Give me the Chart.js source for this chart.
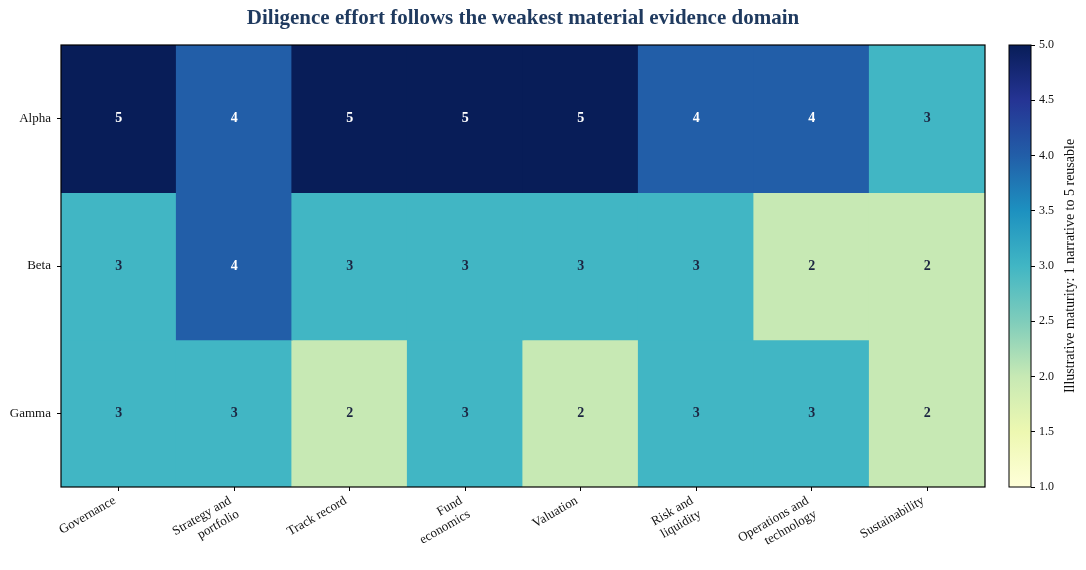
<!DOCTYPE html>
<html>
<head>
<meta charset="utf-8">
<script src="https://cdn.jsdelivr.net/npm/chart.js@4.4.1/dist/chart.umd.min.js"></script>
<style>
  html, body { margin: 0; padding: 0; background: #fff; }
  #wrap { position: relative; width: 1086px; height: 570px; }
  #heat { position: absolute; left: 0; top: 0; }
  #cbar { position: absolute; left: 1000px; top: 0; }
</style>
</head>
<body>
<div id="wrap">
  <canvas id="heat" width="1000" height="570"></canvas>
  <canvas id="cbar" width="86" height="570"></canvas>
</div>
<script>
// Maturity heatmap: managers x evidence domains

const domains = [
    ['Governance'], ['Strategy and', 'portfolio'], ['Track record'], ['Fund', 'economics'],
    ['Valuation'], ['Risk and', 'liquidity'], ['Operations and', 'technology'], ['Sustainability']
];
const managers = ['Alpha', 'Beta', 'Gamma'];
const alphaScores = [5, 4, 5, 5, 5, 4, 4, 3];
const betaScores = [3, 4, 3, 3, 3, 3, 2, 2];
const gammaScores = [3, 3, 2, 3, 2, 3, 3, 2];
const scoreRows = [alphaScores, betaScores, gammaScores];
const colorbarTicks = [1.0, 1.5, 2.0, 2.5, 3.0, 3.5, 4.0, 4.5, 5.0];

const titleText = 'Diligence effort follows the weakest material evidence domain';
const colorbarLabel = 'Illustrative maturity: 1 narrative to 5 reusable';

// YlGnBu stops, evenly spaced from vmin to vmax
const cmapStops = ['#ffffd9', '#edf8b1', '#c7e9b4', '#7fcdbb', '#41b6c4', '#1d91c0', '#225ea8', '#253494', '#081d58'];
const vmin = 1, vmax = 5;

function hexToRgb(h) {
    return [parseInt(h.slice(1, 3), 16), parseInt(h.slice(3, 5), 16), parseInt(h.slice(5, 7), 16)];
}

function cmap(v) {
    const t = Math.max(0, Math.min(1, (v - vmin) / (vmax - vmin))) * (cmapStops.length - 1);
    const i = Math.min(Math.floor(t), cmapStops.length - 2);
    const f = t - i;
    const a = hexToRgb(cmapStops[i]), b = hexToRgb(cmapStops[i + 1]);
    const c = a.map((x, k) => Math.round(x + (b[k] - x) * f));
    return `rgb(${c[0]}, ${c[1]}, ${c[2]})`;
}

const SERIF = '"Liberation Serif", "DejaVu Serif", serif';

// one floating-bar dataset per manager row
const datasets = scoreRows.map((row, r) => ({
    label: managers[r],
    data: row.map(() => [r - 0.5, r + 0.5]),
    scores: row,
    backgroundColor: row.map(cmap),
    borderWidth: 0,
    inflateAmount: 0.6,
    barPercentage: 1,
    categoryPercentage: 1,
    grouped: false
}));

const heatPlugin = {
    id: 'heatDecor',
    afterDatasetsDraw(chart) {
        const ctx = chart.ctx;
        const area = chart.chartArea;
        ctx.save();
        ctx.font = 'bold 14px ' + SERIF;
        ctx.textAlign = 'center';
        ctx.textBaseline = 'middle';
        chart.data.datasets.forEach((ds, di) => {
            const meta = chart.getDatasetMeta(di);
            meta.data.forEach((bar, i) => {
                const v = ds.scores[i];
                ctx.fillStyle = v >= 4 ? '#ffffff' : '#1c2541';
                ctx.fillText(String(v), bar.x, (bar.y + bar.base) / 2);
            });
        });
        ctx.strokeStyle = '#000';
        ctx.lineWidth = 1.2;
        ctx.strokeRect(area.left, area.top, area.right - area.left, area.bottom - area.top);
        // title over the heatmap axes
        ctx.font = 'bold 21px ' + SERIF;
        ctx.fillStyle = '#1f3a5f';
        ctx.fillText(titleText, (area.left + area.right) / 2, 19);
        ctx.restore();
    }
};

new Chart(document.getElementById('heat').getContext('2d'), {
    type: 'bar',
    data: { labels: domains, datasets: datasets },
    options: {
        responsive: false,
        animation: false,
        layout: { padding: { top: 45, right: 15, left: 0, bottom: 0 } },
        plugins: { legend: { display: false }, tooltip: { enabled: false }, title: { display: false } },
        scales: {
            x: {
                type: 'category',
                stacked: false,
                grid: { offset: false, drawOnChartArea: false, drawTicks: true, tickLength: 4, color: '#000' },
                border: { display: false },
                ticks: {
                    autoSkip: false,
                    minRotation: 30,
                    maxRotation: 30,
                    padding: 2,
                    labelOffset: -4,
                    color: '#111',
                    font: { family: SERIF, size: 13 }
                },
                afterFit(scale) { scale.height = 83; }
            },
            y: {
                type: 'linear',
                reverse: true,
                min: -0.5,
                max: 2.5,
                afterBuildTicks(scale) {
                    scale.ticks = managers.map((m, i) => ({ value: i }));
                },
                grid: { drawOnChartArea: false, drawTicks: true, tickLength: 4, color: '#000' },
                border: { display: false },
                ticks: {
                    padding: 6,
                    color: '#111',
                    font: { family: SERIF, size: 13 },
                    callback: (v) => managers[v]
                },
                afterFit(scale) { scale.width = 61; }
            }
        }
    },
    plugins: [heatPlugin]
});

// colorbar: single floating bar spanning vmin..vmax, filled with the colormap gradient
const cbarPlugin = {
    id: 'cbarDecor',
    afterDatasetsDraw(chart) {
        const ctx = chart.ctx;
        const area = chart.chartArea;
        ctx.save();
        ctx.strokeStyle = '#000';
        ctx.lineWidth = 1;
        ctx.strokeRect(area.left, area.top, area.right - area.left, area.bottom - area.top);
        ctx.translate(70, (area.top + area.bottom) / 2);
        ctx.rotate(-Math.PI / 2);
        ctx.font = '14px ' + SERIF;
        ctx.fillStyle = '#111';
        ctx.textAlign = 'center';
        ctx.textBaseline = 'middle';
        ctx.fillText(colorbarLabel, 0, 0);
        ctx.restore();
    }
};

new Chart(document.getElementById('cbar').getContext('2d'), {
    type: 'bar',
    data: {
        labels: ['scale'],
        datasets: [{
            data: [[vmin, vmax]],
            barPercentage: 1,
            categoryPercentage: 1,
            borderWidth: 0,
            backgroundColor(context) {
                const chart = context.chart;
                const ys = chart.scales.y;
                if (!chart.chartArea || !ys) return cmapStops[0];
                const g = chart.ctx.createLinearGradient(0, ys.getPixelForValue(vmin), 0, ys.getPixelForValue(vmax));
                cmapStops.forEach((c, i) => g.addColorStop(i / (cmapStops.length - 1), c));
                return g;
            }
        }]
    },
    options: {
        responsive: false,
        animation: false,
        layout: { padding: { top: 45, bottom: 83, left: 9, right: 0 } },
        plugins: { legend: { display: false }, tooltip: { enabled: false } },
        scales: {
            x: { display: false },
            y: {
                position: 'right',
                min: vmin,
                max: vmax,
                afterBuildTicks(scale) {
                    scale.ticks = colorbarTicks.map(v => ({ value: v }));
                },
                grid: { drawOnChartArea: false, drawTicks: true, tickLength: 4, color: '#000' },
                border: { display: false },
                ticks: {
                    padding: 4,
                    color: '#111',
                    font: { family: SERIF, size: 12 },
                    callback: (v) => Number(v).toFixed(1)
                },
                afterFit(scale) { scale.width = 55; }
            }
        }
    },
    plugins: [cbarPlugin]
});
</script>
</body>
</html>
